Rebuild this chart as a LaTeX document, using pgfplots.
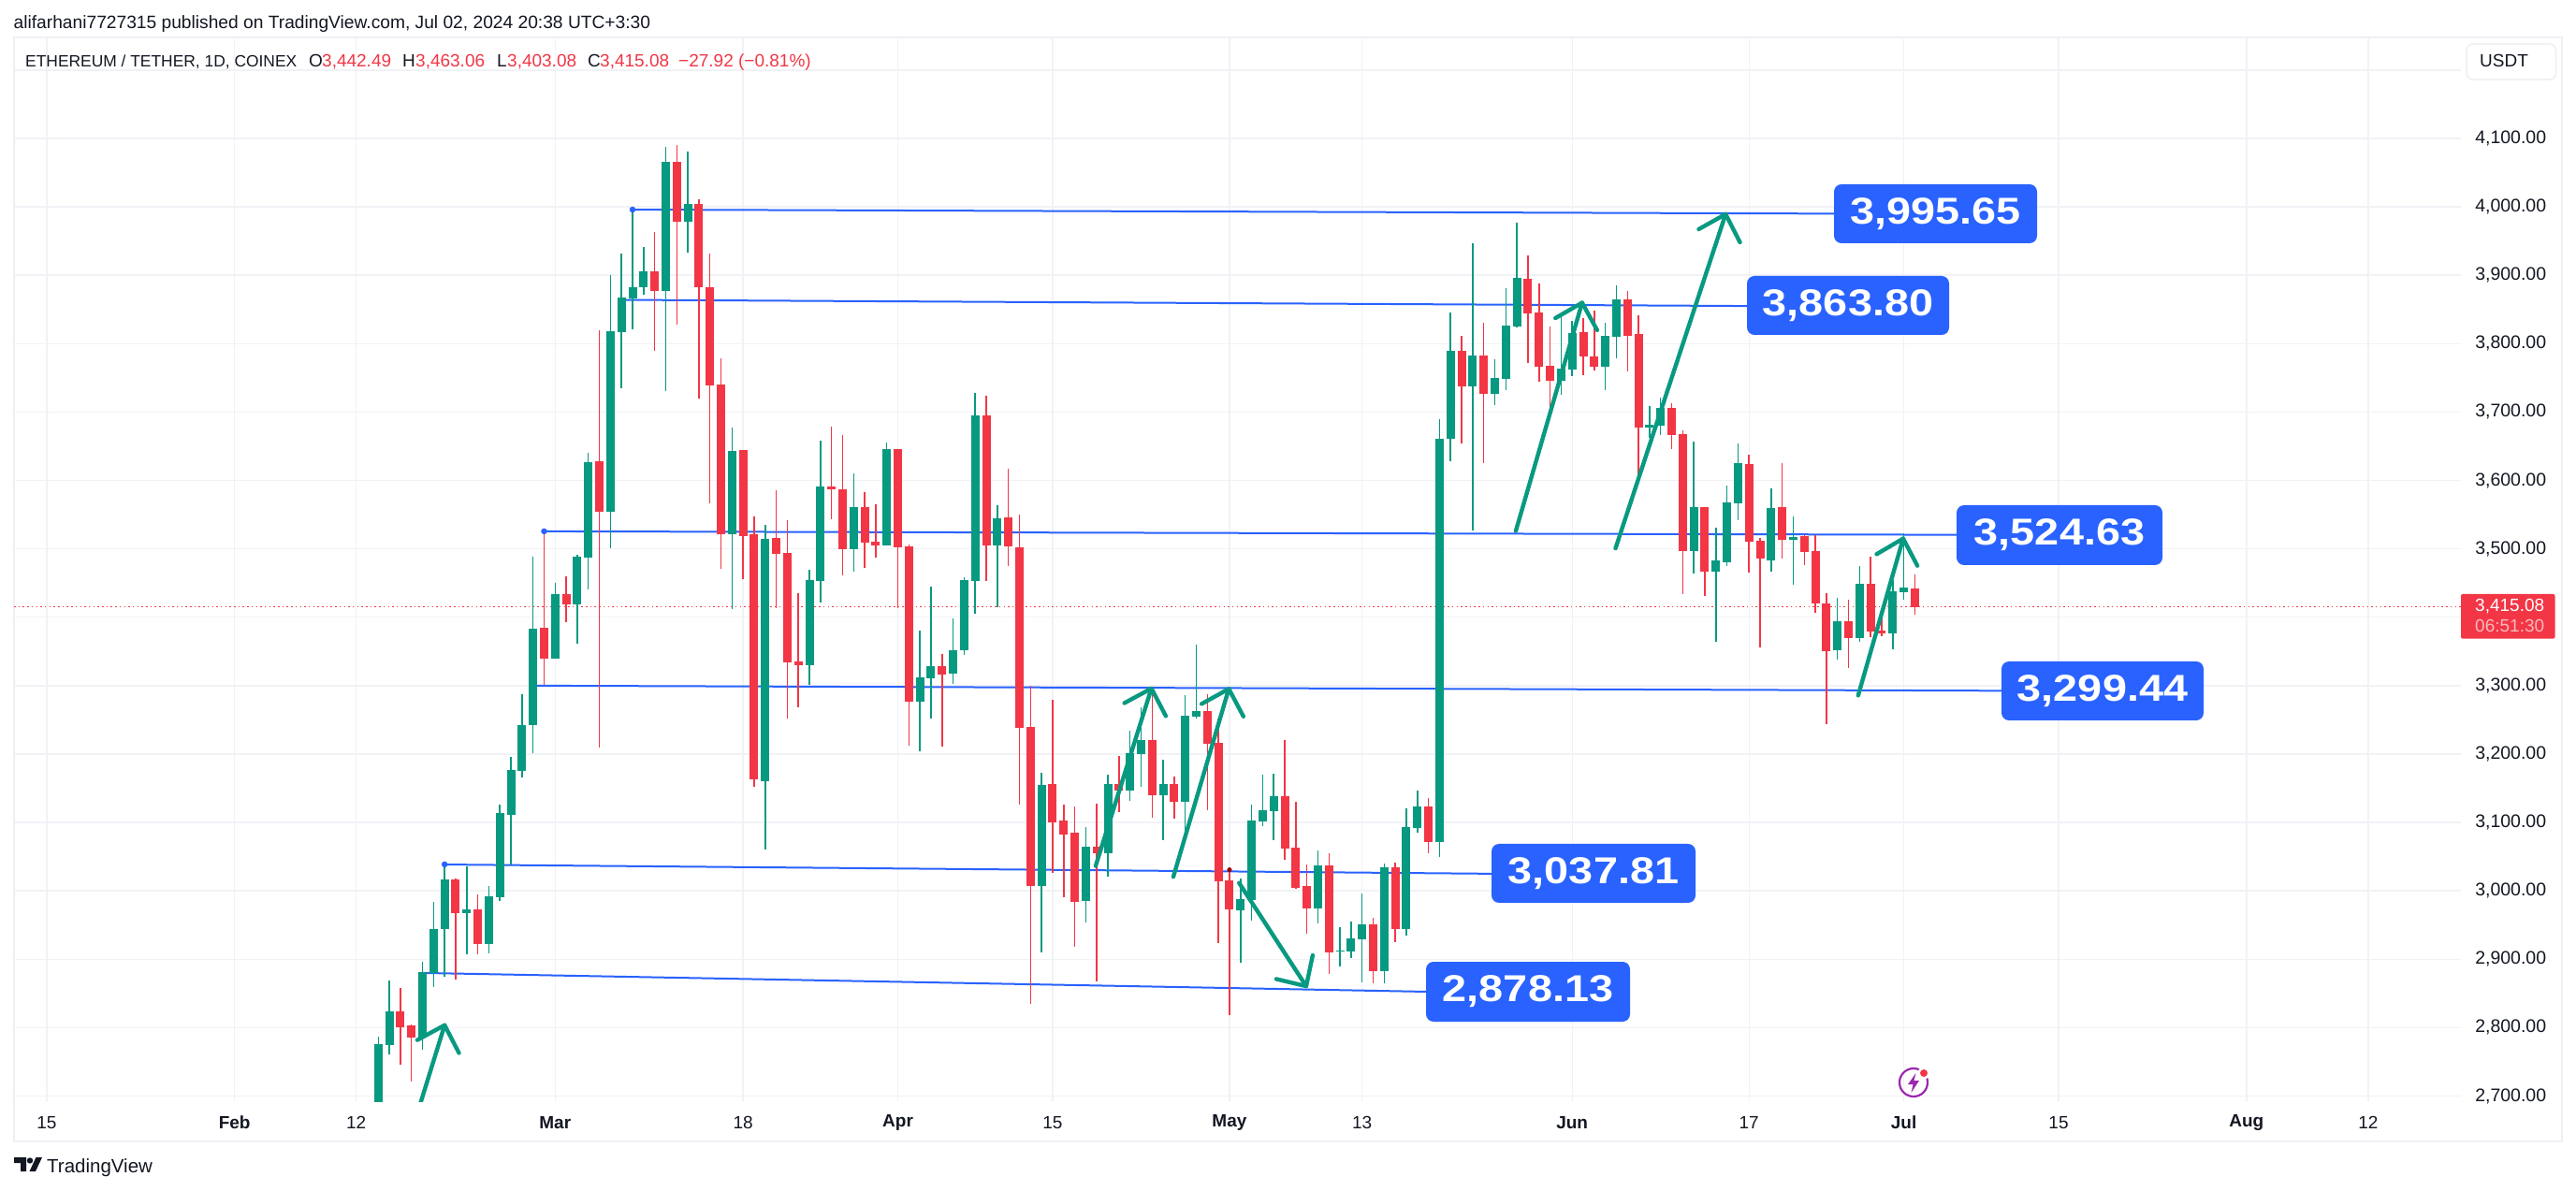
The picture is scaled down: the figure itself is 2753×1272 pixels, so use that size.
\documentclass[border=0pt]{standalone}
\usepackage{fontspec}
\usepackage{pgfplots}
\usepackage{pgfplotstable}
\pgfplotsset{compat=1.18}
\setmainfont{Liberation Sans}
\newfontfamily\labfont[FakeStretch=1.17]{Liberation Sans Bold}
\definecolor{tvgreen}{HTML}{089981}
\definecolor{tvred}{HTML}{F23645}
\definecolor{tvblue}{HTML}{2962FF}
\definecolor{tvtext}{HTML}{131722}
\definecolor{tvgrid}{HTML}{F1F2F6}
\definecolor{tvframe}{HTML}{EFEFF4}
\definecolor{tvpurple}{HTML}{9C27B0}

\pgfplotstableread{
d o h l c
-16 2650 2786.6 2640 2775.8
-15 2774.8 2868.6 2760.7 2823.8
-12 2785.7 2896.4 2768.3 2881.3
-11 2879.9 2983.5 2859.6 2944
-10 2944.4 3038.7 2874.7 3016.5
-8 2968 3035.4 2907.7 2972.7
-6 2922.8 3007.1 2909.1 2992
-5 2991.1 3125.8 2985 3113.6
-4 3111.2 3195.5 3038.7 3176.7
-3 3175.8 3287.4 3166.3 3242.2
-2 3242.6 3488.4 3201.7 3382.9
0 3339.7 3450.3 3339.7 3433.7
2 3419.1 3491.9 3360.9 3488.4
3 3487.5 3640.4 3441 3626.7
5 3554.4 3900.3 3501.1 3818.2
6 3817.3 3931.6 3735.2 3867.6
7 3866.1 3996.1 3821.2 3882.3
8 3881.8 3941.4 3872 3905.7
10 3877.4 4087.5 3731.3 4066
12 3978.5 4080.6 3933.6 4004.4
16 3521.7 3677 3412.2 3642.8
19 3160.7 3534.9 3060.8 3514.3
23 3330 3469.3 3301.4 3454
24 3452.8 3658 3421.7 3590.8
27 3499.2 3610.4 3466.9 3560.9
30 3504.7 3655.6 3504.7 3645.8
33 3276.3 3380.1 3203.6 3311.7
34 3310.5 3444.9 3252.5 3328.2
36 3317.2 3398.5 3302.6 3351.4
37 3351.4 3458.3 3344.7 3454
38 3452.8 3727.6 3405.8 3695.3
40 3504.7 3564 3415 3544.4
44 3007 3172.5 2909.9 3154.8
48 2985 3093.1 2953.9 3064.4
50 3054.6 3169.5 3020.4 3156
52 3146.3 3234.2 3131.6 3201.2
53 3200 3268.4 3151.7 3220.1
55 3139.5 3191.4 3074.2 3156
57 3130.4 3286.1 3083.3 3256.2
58 3254.3 3360 3251.3 3262.9
62 2971.4 3017.9 2895.3 2987.8
63 2987 3126 2956.4 3102.8
64 3101.4 3169.8 3094.6 3117.8
65 3116.4 3171.2 3074 3138.3
69 2974.2 3059 2952.3 3037.1
71 2911.2 2946.8 2889.4 2913
72 2911.2 2955 2901.7 2930.4
73 2929 2996 2866.1 2950.9
75 2882.5 3039.8 2864.7 3034.4
77 2944 3120.5 2934.5 3093.2
78 3091.8 3146.5 3085 3123.3
80 3071.3 3689.8 3049.4 3661
81 3661 3845.6 3628.2 3789.4
83 3737.7 3946.8 3526.6 3782.6
85 3726.4 3777.2 3710.3 3749.9
86 3748.4 3881.3 3731.8 3826.6
87 3825.1 3977.1 3823.6 3896
91 3745.5 3838.8 3725 3763.6
92 3762.1 3833.4 3752.3 3815.3
95 3766 3830.5 3731.8 3811.4
96 3810 3885.2 3778.7 3864.7
99 3677.1 3708.8 3661.9 3681.5
100 3680 3721 3666.3 3705.9
103 3496.8 3656.5 3464 3560.8
105 3466.5 3530.9 3363.9 3483.1
106 3480.2 3592.5 3474.8 3567.6
107 3566.6 3654.1 3541.7 3625.3
110 3483.1 3588.2 3466.5 3559.8
112 3512.9 3547.1 3447.4 3517.3
116 3351.7 3428.3 3338.1 3394.1
118 3369.5 3474.9 3364 3448.9
121 3376.4 3454.3 3353.1 3437.9
122 3436.5 3522.7 3425.6 3443.4
}\greentab

\pgfplotstableread{
d o h l c
-14 2823.8 2857.8 2745.6 2800.8
-13 2803.1 2804.5 2721.1 2785.7
-9 3016.5 3018 2870.5 2968
-7 2972.7 2995.3 2907.7 2922.8
-1 3384.4 3525.6 3301.5 3339.7
1 3433.7 3459.6 3393.2 3419.1
4 3628.2 3819.7 3209.7 3554.4
9 3905.7 3963.4 3789.9 3877.4
11 4066 4090.4 3828 3978.5
13 4004.4 4011.2 3720 3882.7
14 3882.3 3931.6 3567.1 3739.1
15 3740.1 3778.7 3471.3 3521.7
17 3644.3 3644.3 3456.2 3519.2
18 3521.2 3547.1 3152.7 3163.5
20 3515.8 3585.7 3413.7 3492.8
21 3493.8 3541.7 3252.3 3334.4
22 3335.6 3435.1 3268.4 3330
25 3590.8 3678.8 3543.2 3587.2
26 3587.2 3666.6 3461.4 3499.2
28 3560.9 3582.9 3472.4 3509
29 3510.2 3565.2 3487 3504.7
31 3645.8 3645.8 3413.1 3502.3
32 3503.5 3506.6 3212.2 3276.3
35 3328.2 3346 3211 3316
39 3695.3 3724 3452.8 3504.7
41 3545.6 3617.1 3474.8 3503.5
42 3502.3 3549.9 3126.1 3237.8
43 3239.7 3299.5 2834.8 3007
45 3156 3279.4 3026 3099.8
46 3102.9 3126.1 2990.5 3082.1
47 3085.2 3123 2917.8 2983.8
49 3064.4 3127.3 2867.8 3054.6
51 3156 3196.9 3115.1 3146.3
54 3220.1 3297.1 3106.6 3139.5
56 3156 3167 3105.3 3130.4
59 3262.9 3287.9 3117.6 3214.6
60 3216.5 3251.3 2923.4 3013.7
61 3014.9 3031 2818.2 2972.8
66 3138.3 3220.4 3045.3 3061.7
67 3063.1 3130.1 3002.9 3004.3
68 3007 3038.5 2937.2 2974.2
70 3037.1 3054.9 2878.4 2909.9
74 2950.9 2960.5 2864.7 2882.5
76 3034.4 3041.2 2924.9 2944
79 3123.3 3135.6 3054.9 3071.3
82 3789.4 3811.4 3654.1 3737.7
84 3782.6 3830.5 3625.3 3726.4
88 3895 3929.2 3771.9 3844.2
89 3845.6 3888.1 3744.5 3766
90 3767.5 3825.1 3703.4 3745.5
93 3816.8 3837.3 3753.8 3781.1
94 3781.1 3848.1 3760.6 3766
97 3864.7 3876.9 3759.2 3811.4
98 3813.9 3841.2 3604.8 3677.1
101 3705.9 3712.7 3645.8 3666.3
102 3667.8 3673.2 3433.8 3496.8
104 3560.8 3560.8 3431.3 3466.5
108 3623.8 3637.5 3465 3510.5
109 3511.9 3515.8 3355.6 3485.5
111 3560.8 3625.3 3485.5 3512.9
113 3518.6 3521.4 3476.2 3495.4
114 3496.7 3520 3406.5 3420.1
115 3420.1 3435.2 3243.7 3350.4
117 3394.1 3425.6 3325.7 3369.5
119 3448.9 3488.5 3370.9 3379.1
120 3380.5 3409.2 3372.3 3376.4
123 3442.49 3463.06 3403.08 3415.08
}\redtab

\newcommand\tx[5]{\node[inner sep=0pt,anchor=base west,text=#4,font=\fontsize{#3}{#3}\selectfont] at (#1,#2) {#5};}
\newcommand\lbox[6]{%
  \fill[tvblue,rounded corners=8pt] (#1,#3) rectangle (#2,#4);
  \node[inner sep=0pt,anchor=center,text=white,font=\fontsize{40}{40}\selectfont\labfont] at ({(#1+#2)/2},{(#3+#4)/2}) {#5};}

\begin{document}
\begin{tikzpicture}
\useasboundingbox (0,0) rectangle (2753pt,1272pt);
\fill[white] (0,0) rectangle (2753pt,1272pt);
\begin{scope}[x=1pt,y=-1pt,yshift=1272pt]
\draw[tvframe,line width=2.5pt] (15,40) rectangle (2738,1220);
\end{scope}

\begin{axis}[
  at={(15pt,95pt)},anchor=south west,
  scale only axis,width=2615pt,height=1137pt,
  xmin=-48.95,xmax=172.4,ymin=2692.5,ymax=4247.7,
  axis line style={draw=none},
  major tick length=0pt,
  grid=major,
  grid style={tvgrid,line width=1.4pt},
  xtick={-46,-29,-18,0,17,31,45,61,73,92,108,122,136,153,164},
  xticklabels={15,\textbf{Feb},12,\textbf{Mar},18,\textbf{Apr},15,\textbf{May},13,\textbf{Jun},17,\textbf{Jul},15,\textbf{Aug},12},
  xticklabel style={inner sep=0pt,anchor=center,yshift=-23pt,text=tvtext,font=\fontsize{19}{19}\selectfont},
  ytick={2700,2800,2900,3000,3100,3200,3300,3500,3600,3700,3800,3900,4000,4100},
  yticklabel pos=right,
  yticklabel style={inner sep=0pt,xshift=15pt,text=tvtext,font=\fontsize{19.5}{19.5}\selectfont,
    /pgf/number format/.cd,fixed,fixed zerofill,precision=2,1000 sep={,},assume math mode=true},
  extra y ticks={3400,4200},extra y tick labels={,},
]
% blue levels
\addplot[tvblue,line width=2pt] coordinates {(7,3996) (116,3990)};
\addplot[tvblue,line width=2pt] coordinates {(6,3864) (108,3855)};
\addplot[tvblue,line width=2pt] coordinates {(-1,3525.6) (127,3520.5)};
\addplot[tvblue,line width=2pt] coordinates {(-2,3300) (131,3292.5)};
\addplot[tvblue,line width=2pt] coordinates {(-10,3038.5) (85,3025)};
\addplot[tvblue,line width=2pt] coordinates {(-12,2880) (79,2852.5)};
% last price
\addplot[tvred,line width=1.4pt,dash pattern=on 1.5pt off 3.2pt] coordinates {(-48.95,3415.08) (172.4,3415.08)};
% wicks
\addplot[draw=none,mark=none,forget plot,error bars/.cd,y dir=minus,y explicit,error mark=none,
  error bar style={tvgreen,line width=1.5pt}]
  table[x=d,y=h,y error minus expr=\thisrow{h}-\thisrow{l}] {\greentab};
\addplot[draw=none,mark=none,forget plot,error bars/.cd,y dir=minus,y explicit,error mark=none,
  error bar style={tvred,line width=1.5pt}]
  table[x=d,y=h,y error minus expr=\thisrow{h}-\thisrow{l}] {\redtab};
% bodies
\addplot[draw=none,mark=none,forget plot,error bars/.cd,y dir=minus,y explicit,error mark=none,
  error bar style={tvgreen,line width=9pt}]
  table[x=d,y=c,y error minus expr=\thisrow{c}-\thisrow{o}] {\greentab};
\addplot[draw=none,mark=none,forget plot,error bars/.cd,y dir=minus,y explicit,error mark=none,
  error bar style={tvred,line width=9pt}]
  table[x=d,y=o,y error minus expr=\thisrow{o}-\thisrow{c}] {\redtab};
% anchors
\addplot[only marks,mark=*,mark size=3pt,mark options={fill=tvblue,draw=tvblue}] coordinates {(7,3996) (-1,3525.6) (-10,3038.7)};
\addplot[only marks,mark=*,mark size=2.3pt,mark options={fill=red!60!black,draw=red!60!black}] coordinates {(61,3030.8)};
% arrows
\addplot[tvgreen,line width=4.4pt,line cap=round,line join=round] coordinates {(-12.94,2650) (-10,2803.6)};
\addplot[tvgreen,line width=4.4pt,line cap=round,line join=round] coordinates {(-12.47,2781.9) (-10,2803.6) (-8.7,2763)};
\addplot[tvgreen,line width=4.4pt,line cap=round,line join=round] coordinates {(48.89,3036.3) (53.94,3295.9)};
\addplot[tvgreen,line width=4.4pt,line cap=round,line join=round] coordinates {(51.49,3274.5) (53.94,3295.9) (55.24,3255.6)};
\addplot[tvgreen,line width=4.4pt,line cap=round,line join=round] coordinates {(55.92,3020.5) (60.94,3295.3)};
\addplot[tvgreen,line width=4.4pt,line cap=round,line join=round] coordinates {(58.48,3273.3) (60.94,3295.3) (62.26,3255)};
\addplot[tvgreen,line width=4.4pt,line cap=round,line join=round] coordinates {(61.87,3011.6) (67.94,2860.6)};
\addplot[tvgreen,line width=4.4pt,line cap=round,line join=round] coordinates {(65.23,2871.1) (67.94,2860.6) (68.53,2905.8)};
\addplot[tvgreen,line width=4.4pt,line cap=round,line join=round] coordinates {(86.9,3526.1) (92.9,3859.8)};
\addplot[tvgreen,line width=4.4pt,line cap=round,line join=round] coordinates {(90.48,3837.3) (92.9,3859.8) (94.26,3819.7)};
\addplot[tvgreen,line width=4.4pt,line cap=round,line join=round] coordinates {(95.92,3500.7) (105.88,3989.3)};
\addplot[tvgreen,line width=4.4pt,line cap=round,line join=round] coordinates {(103.45,3967.3) (105.88,3989.3) (107.18,3948.2)};
\addplot[tvgreen,line width=4.4pt,line cap=round,line join=round] coordinates {(117.87,3285.6) (121.94,3515)};
\addplot[tvgreen,line width=4.4pt,line cap=round,line join=round] coordinates {(119.54,3492.2) (121.94,3515) (123.23,3475.3)};
\end{axis}

\begin{scope}[x=1pt,y=-1pt,yshift=1272pt]
% level labels
\lbox{1960}{2177}{197}{260}{3,995.65}{}
\lbox{1867}{2083}{295}{358}{3,863.80}{}
\lbox{2091}{2311}{540}{604}{3,524.63}{}
\lbox{2139}{2355}{707}{770}{3,299.44}{}
\lbox{1594}{1812}{902}{965}{3,037.81}{}
\lbox{1524}{1742}{1028}{1092}{2,878.13}{}
% price tag
\fill[tvred,rounded corners=2pt] (2630,635) rectangle (2730.5,682.7);
\tx{2645}{654}{19}{white}{3,415.08}
\tx{2645}{676}{19}{white}{\textcolor{white!65!tvred}{06:51:30}}
% USDT button
\draw[tvframe,line width=1.5pt,fill=white,rounded corners=7pt] (2636,47) rectangle (2731.5,85);
\tx{2650}{72}{19}{tvtext}{USDT}
% header
\tx{14.5}{30.5}{19.2}{tvtext}{alifarhani7727315 published on TradingView.com, Jul 02, 2024 20:38 UTC+3:30}
\tx{27}{71.5}{17.4}{tvtext}{ETHEREUM / TETHER, 1D, COINEX}
\tx{330}{71.5}{19}{tvtext}{O}
\tx{344}{71.5}{19}{tvred}{3,442.49}
\tx{430}{71.5}{19}{tvtext}{H}
\tx{444}{71.5}{19}{tvred}{3,463.06}
\tx{531}{71.5}{19}{tvtext}{L}
\tx{542}{71.5}{19}{tvred}{3,403.08}
\tx{628}{71.5}{19}{tvtext}{C}
\tx{641}{71.5}{19}{tvred}{3,415.08}
\tx{725}{71.5}{19}{tvred}{−27.92 (−0.81\%)}
% footer logo
\fill[tvtext] (15,1237) -- (28,1237) -- (28,1252) -- (22,1252) -- (22,1243) -- (15,1243) -- cycle;
\fill[tvtext] (32,1240.5) circle (3.2);
\fill[tvtext] (38.5,1237) -- (45,1237) -- (38,1252) -- (31.5,1252) -- cycle;
\tx{50}{1253.5}{20.5}{tvtext}{TradingView}
% lightning icon
\draw[tvpurple,line width=2.2pt] (2045,1157) circle (15);
\fill[white] (2056,1147) circle (6.5);
\fill[tvred] (2056,1147) circle (4);
\fill[tvpurple] (2047.5,1147) -- (2039,1159) -- (2044.5,1159) -- (2042.5,1168) -- (2051,1155) -- (2045.5,1155) -- cycle;
\end{scope}
\end{tikzpicture}
\end{document}
